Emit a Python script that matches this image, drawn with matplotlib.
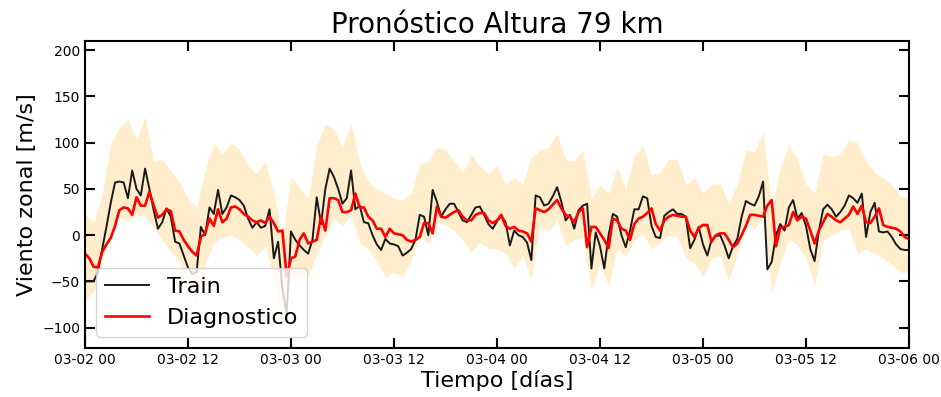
import matplotlib
matplotlib.use("Agg")
import matplotlib.pyplot as plt
import matplotlib.dates as mdates
import pandas as pd

# Half-hourly series, 03-02 00:00 to 03-06 00:00
train = [
    -50, -50, -50, -40, -15, 9, 35, 57, 58, 57, 40, 70,
    50, 43, 72, 50, 27, 7, 14, 29, 20, -7, -9, -22,
    -35, -42, -40, 9, 0, 30, 23, 49, 23, 30, 43, 41,
    38, 32, 18, 8, 14, 8, 10, 28, -25, -7, -58, -85,
    4, -5, -11, -16, -20, -5, 41, 12, 50, 72, 63, 50,
    34, 40, 70, 28, 32, 14, 13, 0, -10, -16, -4, -9,
    -10, -12, -22, -19, -15, -5, 22, 20, 0, 49, 36, 20,
    28, 34, 34, 25, 16, 14, 22, 30, 31, 22, 12, 7,
    15, 21, 14, -11, 5, 0, -2, -8, -27, 43, 41, 32,
    34, 42, 52, 36, 16, 22, 7, 27, 32, 34, -36, 3,
    -12, -36, 0, 23, 20, 0, -13, 5, 28, 28, 42, 40,
    10, -2, -3, 21, 25, 28, 23, 23, 20, -14, -5, 9,
    -10, -22, -5, -1, 0, -11, -25, -12, -4, 20, 37, 34,
    32, 42, 58, -37, -29, 0, 12, 5, 30, 38, 18, 24,
    10, -15, -28, 5, 28, 33, 28, 20, 25, 32, 43, 40,
    35, 45, -2, 25, 35, 4, 3, 4, -2, -10, -15, -16,
    -16,
]

diagnostico = [
    -20, -25, -34, -35, -18, -10, -3, 10, 27, 30, 29, 22,
    41, 32, 32, 47, 32, 19, 22, 28, 26, 5, 4, -5,
    -12, -18, -22, -2, 2, 18, 10, 28, 14, 18, 30, 31,
    28, 23, 20, 16, 14, 16, 13, 20, 13, 4, 5, -45,
    -25, -23, -5, 2, -9, -7, -5, 20, 5, 40, 40, 38,
    25, 25, 27, 45, 30, 30, 20, 16, 7, 7, -2, 7,
    2, 1, 0, -5, -7, -5, -2, 13, 13, 2, 31, 20,
    19, 22, 25, 27, 20, 16, 16, 22, 24, 24, 16, 13,
    16, 22, 10, 7, 9, 5, 4, 2, -7, 29, 27, 25,
    28, 33, 38, 29, 22, 20, 14, 25, 29, -13, 9, 9,
    2, -5, -14, 18, 16, 7, 5, -5, 12, 18, 20, 24,
    29, 12, 5, 16, 20, 22, 21, 20, 20, 5, -2, 8,
    11, 11, -7, 0, 2, 2, -5, -13, -9, 0, 10, 22,
    22, 21, 20, 32, 38, -12, 8, 9, 11, 25, 16, 20,
    18, 5, -9, 5, 14, 23, 20, 16, 14, 18, 22, 31,
    23, 32, 14, 13, 20, 29, 11, 9, 8, 7, 4, -2,
    -4,
]

# Hourly spread envelope
banda_sup = [
    23, 14, 45, 100, 116, 125, 104, 128, 80, 82, 70, 58,
    40, 30, 70, 100, 88, 100, 93, 75, 67, 80, 45, 0,
    63, 52, 40, 97, 120, 115, 95, 120, 78, 58, 50, 45,
    40, 38, 46, 77, 80, 95, 92, 80, 68, 87, 75, 66,
    75, 55, 62, 55, 85, 92, 95, 110, 82, 80, 92, 40,
    55, 45, 75, 50, 86, 97, 65, 68, 82, 82, 55, 62,
    45, 55, 56, 35, 55, 92, 90, 112, 30, 72, 98, 82,
    55, 45, 88, 85, 88, 103, 100, 80, 68, 62, 55, 42,
    41,
]

banda_inf = [
    -72, -60, -27, 5, 20, 15, 22, 20, 8, -5, -18, -28,
    -59, -72, -31, -9, -2, 0, -5, -13, -22, -12, -45, -95,
    -45, -47, -45, -20, 0, 18, 10, 22, -8, -15, -29, -45,
    -40, -45, -27, 0, -10, 15, 11, 5, -5, -18, -8, -14,
    -15, -20, -36, -22, -48, 10, 4, 16, -12, -5, -2, -59,
    -30, -55, -15, -23, -5, 2, -15, -8, 0, -2, -25, -30,
    -45, -25, -22, -50, -20, 15, 7, 20, -62, -30, -5, -10,
    -25, -54, -5, 0, 5, 7, -20, -15, -20, -25, -32, -40,
    -40,
]

inicio = pd.Timestamp("2022-03-02 00:00")
fin = pd.Timestamp("2022-03-06 00:00")
t_serie = pd.date_range(inicio, fin, freq="30min")
t_banda = pd.date_range(inicio, fin, freq="h")

fig = plt.figure(figsize=(9.41, 3.97), dpi=100)
ax = fig.add_axes([85 / 941, 1 - 348 / 397, (909 - 85) / 941, (348 - 41) / 397])

ax.fill_between(t_banda, banda_inf, banda_sup, color="orange", alpha=0.2, linewidth=0)
ax.plot(t_serie, train, color="#1a1a1a", lw=1.4, label="Train")
ax.plot(t_serie, diagnostico, color="red", lw=1.9, label="Diagnostico")

ax.set_xlim(inicio, fin)
ax.set_ylim(-122, 210)
ax.set_yticks([-100, -50, 0, 50, 100, 150, 200])
ax.xaxis.set_major_locator(mdates.HourLocator(byhour=[0, 12]))
ax.xaxis.set_major_formatter(mdates.DateFormatter("%m-%d %H"))
ax.tick_params(direction="in", length=7, width=1.5, top=True, right=True, labelsize=10)
for s in ax.spines.values():
    s.set_linewidth(1.5)

ax.set_title("Pronóstico Altura 79 km", fontsize=20)
ax.set_xlabel("Tiempo [días]", fontsize=16, labelpad=2)
ax.set_ylabel("Viento zonal [m/s]", fontsize=16)
ax.legend(loc="lower left", fontsize=16)

fig.savefig("out.png", dpi=100)
